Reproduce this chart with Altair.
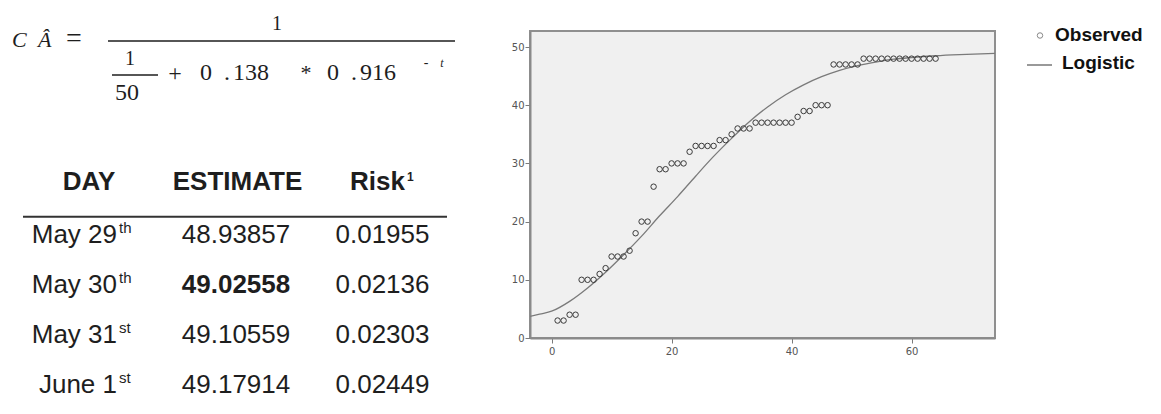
import altair as alt
import pandas as pd

# ---------------- data ----------------
obs_day = list(range(1, 65))
obs_val = [3, 3, 4, 4, 10, 10, 10, 11, 12, 14, 14, 14, 15, 18, 20, 20, 26, 29, 29,
           30, 30, 30, 32, 33, 33, 33, 33, 34, 34, 35, 36, 36, 36,
           37, 37, 37, 37, 37, 37, 37, 38, 39, 39, 40, 40, 40,
           47, 47, 47, 47, 47,
           48, 48, 48, 48, 48, 48, 48, 48, 48, 48, 48, 48, 48]

curve_t = [-3.6, -2, 0, 3, 6, 9, 12, 15, 18, 21, 24, 27, 30, 33, 36, 39, 42, 45, 48,
           51, 54, 57, 60, 64, 68, 73.9]
curve_y = [3.7, 4.1, 4.6, 6.3, 8.6, 11.3, 14.3, 17.5, 21.0, 24.3, 27.8, 31.2, 34.3, 37.2,
           39.7, 41.8, 43.5, 44.9, 46.0, 46.8, 47.4, 47.9, 48.2, 48.5, 48.7, 48.9]

table_days = ["May 29", "May 30", "May 31", "June 1"]
table_suffix = ["th", "th", "st", "st"]
table_estimate = ["48.93857", "49.02558", "49.10559", "49.17914"]
table_risk = ["0.01955", "0.02136", "0.02303", "0.02449"]
table_headers = ["DAY", "ESTIMATE", "Risk"]
legend_labels = ["Observed", "Logistic"]

# ---------------- layout (page px -> plot-relative px) ----------------
OX, OY = 530, 31          # plot origin on the page
W, H = 465, 307


def rx(px):
    return px - OX


def ry(py):
    return py - OY


SERIF = "Liberation Serif"
SANS = "Liberation Sans"
INK = "#1e1e1e"

layers = []


def label(text, x, y, size, font=SANS, align="left", weight="normal",
          style="normal", color=INK, baseline="alphabetic"):
    layers.append(
        alt.Chart(pd.DataFrame({"t": [text]})).mark_text(
            align=align, baseline=baseline, font=font, fontSize=size,
            fontWeight=weight, fontStyle=style, color=color
        ).encode(x=alt.value(rx(x)), y=alt.value(ry(y)), text="t:N")
    )


def hline(x1, x2, y, width, color=INK):
    layers.append(
        alt.Chart(pd.DataFrame({"a": [0]})).mark_rule(
            color=color, strokeWidth=width
        ).encode(x=alt.value(rx(x1)), x2=alt.value(rx(x2)), y=alt.value(ry(y)))
    )


# ---------------- scatter + curve ----------------
obs_df = pd.DataFrame({"day": obs_day, "val": obs_val})
cur_df = pd.DataFrame({"day": curve_t, "val": curve_y})

xscale = alt.Scale(domain=[-3.6, 73.9], nice=False, zero=False)
yscale = alt.Scale(domain=[0, 52.75], nice=False, zero=False)
xaxis = alt.Axis(values=[0, 20, 40, 60], title=None, grid=False, labelPadding=3)
yaxis = alt.Axis(values=[0, 10, 20, 30, 40, 50], title=None, grid=False, labelPadding=1)

curve = alt.Chart(cur_df).mark_line(
    color="#7a7a7a", strokeWidth=1.3, interpolate="monotone", clip=True
).encode(
    x=alt.X("day:Q", scale=xscale, axis=xaxis),
    y=alt.Y("val:Q", scale=yscale, axis=yaxis),
)
points = alt.Chart(obs_df).mark_point(
    shape="circle", filled=False, size=30, strokeWidth=1, color="#3a3a3a", opacity=1
).encode(
    x=alt.X("day:Q", scale=xscale, axis=xaxis),
    y=alt.Y("val:Q", scale=yscale, axis=yaxis),
)
layers.append(curve)
layers.append(points)

# ---------------- legend ----------------
layers.append(
    alt.Chart(pd.DataFrame({"a": [0]})).mark_point(
        shape="circle", filled=False, size=30, strokeWidth=1, color="#888888", opacity=1
    ).encode(x=alt.value(rx(1040)), y=alt.value(ry(35.5)))
)
hline(1027, 1052, 65, 1.5, color="#777777")
label(legend_labels[0], 1055, 40.5, 19, weight="bold", color="#111111")
label(legend_labels[1], 1062, 69.3, 19, weight="bold", color="#111111")

# ---------------- formula ----------------
label("C", 12, 47, 22, font=SERIF, style="italic")
label("Â", 38, 47, 22, font=SERIF, style="italic")
label("=", 66, 47, 28, font=SERIF)
hline(108, 455, 41, 1.5)
label("1", 277, 30, 20, font=SERIF, align="center")
label("1", 130, 65, 20, font=SERIF, align="center")
hline(112, 158, 75, 1.5)
label("50", 127, 100, 24, font=SERIF, align="center")
label("+", 175, 81, 24, font=SERIF, align="center")
label("0", 200, 80, 24, font=SERIF)
label(".", 224, 80, 24, font=SERIF)
label("138", 233, 80, 24, font=SERIF)
label("*", 306, 80, 22, font=SERIF, align="center")
label("0", 327, 80, 24, font=SERIF)
label(".", 351, 80, 24, font=SERIF)
label("916", 360, 80, 24, font=SERIF)
label("-", 426, 67, 14, font=SERIF, align="center")
label("t", 442, 67, 12, font=SERIF, style="italic", align="center")

# ---------------- table ----------------
label(table_headers[0], 89, 190, 26, weight="bold", align="center")
label(table_headers[1], 237.5, 190, 26, weight="bold", align="center")
label(table_headers[2], 405, 190, 26, weight="bold", align="right")
label("1", 407, 181, 12, weight="bold")
hline(23, 447, 216.7, 2, color="#333333")

tab = pd.DataFrame({
    "row": list(range(len(table_days))),
    "day": table_days,
    "suf": table_suffix,
    "est": table_estimate,
    "risk": table_risk,
})
ROW0, ROWSTEP = 243, 50


def col(field, x, size, align, dy=0, weight="normal", filt=None):
    ch = alt.Chart(tab).transform_calculate(
        py=f"{ROW0 - OY + dy} + {ROWSTEP} * datum.row"
    )
    if filt is not None:
        ch = ch.transform_filter(filt)
    layers.append(
        ch.mark_text(align=align, baseline="alphabetic", font=SANS, fontSize=size,
                     fontWeight=weight, color=INK).encode(
            x=alt.value(rx(x)),
            y=alt.Y("py:Q", scale=None),
            text=f"{field}:N",
        )
    )


col("day", 117, 26, "right")
col("suf", 119, 15, "left", dy=-10)
col("est", 236, 26, "center", filt="datum.row != 1")
col("est", 236, 26, "center", weight="bold", filt="datum.row == 1")
col("risk", 382.5, 26, "center")

chart = alt.layer(*layers).properties(
    width=W, height=H,
    autosize=alt.AutoSizeParams(type="none"),
    padding={"left": OX - 8, "top": OY - 8, "right": 150, "bottom": 68},
).configure_view(
    fill="#f0f0f0", stroke="#8f8f8f", strokeWidth=2
).configure_axis(
    domainColor="#8a8a8a", domainWidth=2, tickColor="#7a7a7a", tickSize=5,
    tickWidth=1, labelColor="#555555", labelFont="DejaVu Sans", labelFontSize=10
)

chart.save("out.html", embed_options={"renderer": "svg", "actions": False})
